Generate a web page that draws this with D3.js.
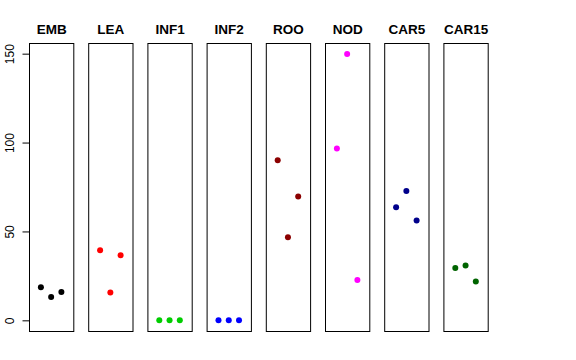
<!DOCTYPE html>
<html>
<head>
<meta charset="utf-8">
<script src="https://cdn.jsdelivr.net/npm/d3@7"></script>
<style>
html,body{margin:0;padding:0;background:#fff;}
svg{display:block;}
</style>
</head>
<body>
<svg id="chart" width="576" height="360"></svg>
<script>
const categories = ["EMB","LEA","INF1","INF2","ROO","NOD","CAR5","CAR15"];
const colors = ["#000000","#FF0000","#00CD00","#0000FF","#8B0000","#FF00FF","#00008B","#006400"];
const valEMB = [18.6, 13.1, 15.9];
const valLEA = [39.4, 15.7, 36.6];
const valINF1 = [0, 0, 0];
const valINF2 = [0, 0, 0];
const valROO = [90.0, 46.7, 69.7];
const valNOD = [96.7, 149.8, 22.7];
const valCAR5 = [63.6, 72.7, 56.1];
const valCAR15 = [29.4, 30.9, 21.9];
const yTicks = [0, 50, 100, 150];

const series = [valEMB, valLEA, valINF1, valINF2, valROO, valNOD, valCAR5, valCAR15];

const svg = d3.select("#chart");
const panelLeft = 29, panelStep = 59.2, panelW = 44.3;
const plotTop = 43, plotBottom = 331;

const y = d3.scaleLinear().domain([-6, 156]).range([plotBottom, plotTop]);

categories.forEach((cat, i) => {
  const x0 = panelLeft + panelStep * i;
  const x = d3.scaleLinear().domain([-0.16, 4.16]).range([x0, x0 + panelW]);
  const g = svg.append("g");
  g.selectAll("circle").data(series[i]).join("circle")
    .attr("cx", (d, j) => x(j + 1))
    .attr("cy", d => y(d))
    .attr("r", 3)
    .attr("fill", colors[i]);
  g.append("rect")
    .attr("x", x0 + 0.5).attr("y", plotTop + 0.5)
    .attr("width", panelW).attr("height", plotBottom - plotTop)
    .attr("fill", "none").attr("stroke", "#000").attr("stroke-width", 1);
  g.append("text")
    .attr("x", x0 + panelW / 2 + 0.5).attr("y", 34)
    .attr("text-anchor", "middle")
    .attr("font-family", "Liberation Sans, Arial, sans-serif")
    .attr("font-weight", "bold")
    .attr("font-size", "13.5px")
    .text(cat);
});

const yAxis = d3.axisLeft(y).tickValues(yTicks).tickSize(7).tickPadding(4).tickFormat(d3.format("d"));
const ag = svg.append("g").attr("transform", `translate(${panelLeft + 0.5},0)`).call(yAxis);
ag.select(".domain").remove();
ag.append("line").attr("x1", 0).attr("x2", 0).attr("y1", y(0)).attr("y2", y(150)).attr("stroke", "#000");
ag.selectAll(".tick line").attr("stroke", "#000");
ag.selectAll(".tick text")
  .attr("font-family", "Liberation Sans, Arial, sans-serif")
  .attr("font-size", "12px")
  .attr("fill", "#000")
  .attr("transform", "rotate(-90)")
  .attr("x", 0)
  .attr("y", -16)
  .attr("dy", 0)
  .attr("text-anchor", "middle");
</script>
</body>
</html>
